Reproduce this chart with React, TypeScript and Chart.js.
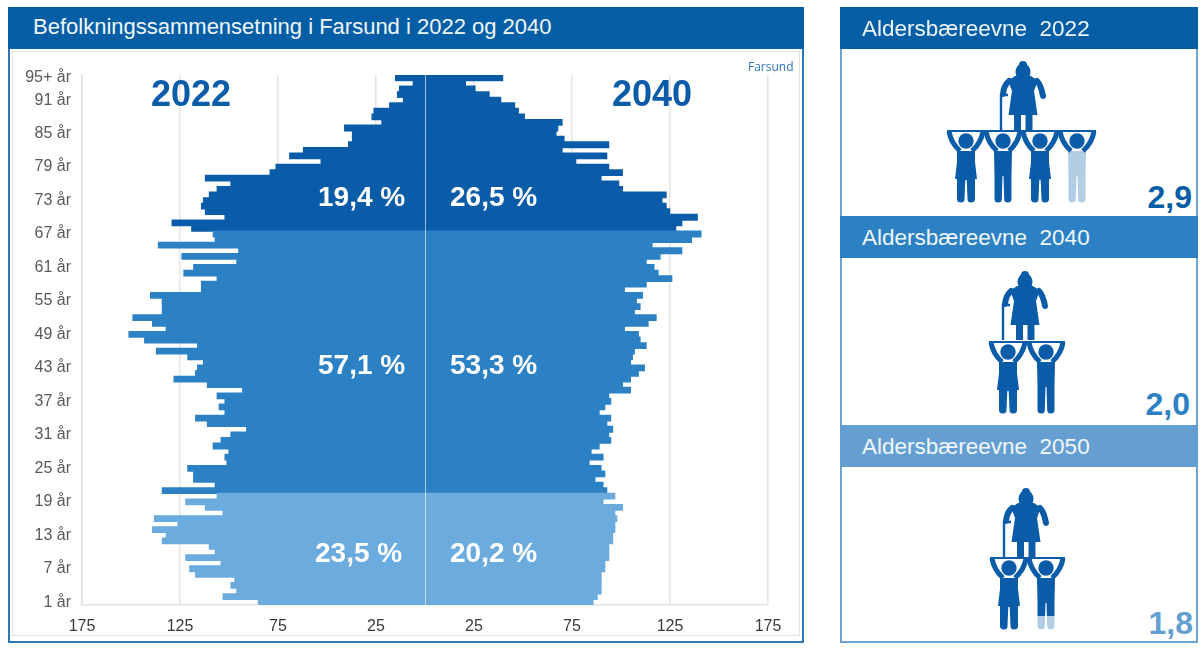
import React, { useEffect, useRef } from "react";
import { Chart, registerables } from "chart.js";

Chart.register(...registerables);

const FONT = '"Liberation Sans", Arial, sans-serif';
const DARK = "#0a5ca8";
const MID = "#2c81c4";
const LIGHT = "#6cabdd";
const HEAD3 = "#659fd2";

// Rows from the top (95+) to the bottom (1 år)
const ageLabels: string[] = [
  "95+ år", "94 år", "93 år", "92 år", "91 år", "90 år", "89 år", "88 år", "87 år", "86 år",
  "85 år", "84 år", "83 år", "82 år", "81 år", "80 år", "79 år", "78 år", "77 år", "76 år",
  "75 år", "74 år", "73 år", "72 år", "71 år", "70 år", "69 år", "68 år", "67 år", "66 år",
  "65 år", "64 år", "63 år", "62 år", "61 år", "60 år", "59 år", "58 år", "57 år", "56 år",
  "55 år", "54 år", "53 år", "52 år", "51 år", "50 år", "49 år", "48 år", "47 år", "46 år",
  "45 år", "44 år", "43 år", "42 år", "41 år", "40 år", "39 år", "38 år", "37 år", "36 år",
  "35 år", "34 år", "33 år", "32 år", "31 år", "30 år", "29 år", "28 år", "27 år", "26 år",
  "25 år", "24 år", "23 år", "22 år", "21 år", "20 år", "19 år", "18 år", "17 år", "16 år",
  "15 år", "14 år", "13 år", "12 år", "11 år", "10 år", "9 år", "8 år", "7 år", "6 år",
  "5 år", "4 år", "3 år", "2 år", "1 år",
];

const shownLabels: string[] = [
  "95+ år", "91 år", "85 år", "79 år", "73 år", "67 år", "61 år", "55 år", "49 år",
  "43 år", "37 år", "31 år", "25 år", "19 år", "13 år", "7 år", "1 år",
];

const pop2022: number[] = [
  15, 6, 13, 14, 11, 18, 26, 27, 22, 41,
  37, 37, 39, 62, 69, 53, 76, 79, 112, 99,
  106, 110, 113, 114, 112, 102, 129, 119, 108, 107,
  136, 95, 124, 96, 118, 123, 106, 114, 114, 140,
  134, 134, 134, 149, 139, 132, 151, 143, 116, 137,
  121, 113, 116, 117, 128, 111, 93, 106, 102, 105,
  102, 117, 111, 91, 99, 104, 108, 100, 102, 101,
  121, 118, 118, 107, 134, 106, 122, 112, 103, 138,
  126, 139, 132, 134, 110, 107, 122, 104, 120, 117,
  97, 99, 96, 103, 85,
];

const pop2040: number[] = [
  39.6, 20.6, 25.5, 32.7, 38.6, 45.7, 47.6, 50.7, 69.9, 67.7,
  66.8, 70.9, 93.7, 69.9, 92.7, 76.9, 93.7, 100.7, 89.8, 98.8,
  100.7, 123, 120.9, 123, 124.8, 138.9, 131, 127.9, 140.8, 135.9,
  115.8, 131, 119.9, 112.8, 116.8, 118.9, 125.9, 112.8, 101.7, 110.9,
  107.8, 109.7, 106.8, 117.9, 113.8, 101.7, 108.8, 109.7, 112.8, 106.8,
  105.8, 104.8, 111.9, 108.8, 104.8, 100.7, 104.8, 93.7, 94.7, 91.7,
  88.8, 94.7, 92.7, 95.7, 93.7, 94.7, 88.8, 84.7, 90.8, 83.7,
  89.8, 91.7, 86.7, 90.8, 92.7, 96.8, 90.8, 100.7, 96.8, 97.8,
  96.8, 96.8, 95.7, 95.7, 93.7, 93.7, 93.7, 91.7, 91.7, 89.8,
  89.8, 89.8, 89.8, 87.8, 85.7,
];

// How many rows from the top belong to each colour band
const oldRows = 28;
const workingRows = 47;

const xTicks: number[] = [-175, -125, -75, -25, 25, 75, 125, 175];

const rowColor = (i: number) => (i < oldRows ? DARK : i < oldRows + workingRows ? MID : LIGHT);

const centerLine = {
  id: "centerLine",
  afterDatasetsDraw(chart: any) {
    const { ctx, chartArea, scales } = chart;
    const x = Math.round(scales.x.getPixelForValue(0)) + 0.5;
    ctx.save();
    ctx.strokeStyle = "rgba(255,255,255,0.6)";
    ctx.lineWidth = 1;
    ctx.beginPath();
    ctx.moveTo(x, chartArea.top);
    ctx.lineTo(x, chartArea.bottom);
    ctx.stroke();
    ctx.restore();
  },
};

function Pyramid() {
  const ref = useRef<HTMLCanvasElement>(null);
  useEffect(() => {
    const chart = new Chart(ref.current as HTMLCanvasElement, {
      type: "bar",
      data: {
        labels: ageLabels,
        datasets: [
          {
            label: "2022",
            data: pop2022.map((v) => -v),
            backgroundColor: ageLabels.map((_, i) => rowColor(i)),
            barPercentage: 1,
            categoryPercentage: 1,
            inflateAmount: 0.6,
          },
          {
            label: "2040",
            data: pop2040,
            backgroundColor: ageLabels.map((_, i) => rowColor(i)),
            barPercentage: 1,
            categoryPercentage: 1,
            inflateAmount: 0.6,
          },
        ],
      },
      options: {
        indexAxis: "y",
        responsive: false,
        animation: false,
        layout: { padding: { top: 75, right: 34, bottom: 0, left: 0 } },
        plugins: { legend: { display: false }, tooltip: { enabled: false }, title: { display: false } },
        scales: {
          x: {
            stacked: true,
            min: -175,
            max: 175,
            afterBuildTicks: (s: any) => {
              s.ticks = xTicks.map((value) => ({ value }));
            },
            afterFit: (s: any) => {
              s.height = 40;
            },
            grid: { color: "#e4e4e4", lineWidth: 1.5, drawTicks: false },
            border: { color: "#e4e4e4", width: 1.5 },
            ticks: {
              maxRotation: 0,
              autoSkip: false,
              padding: 12,
              color: "#3a3a3a",
              font: { family: FONT, size: 16 },
              callback: (v: any) => String(Math.abs(Number(v))),
            },
          },
          y: {
            stacked: true,
            afterFit: (s: any) => {
              s.width = 82;
            },
            grid: { display: false, drawTicks: false },
            border: { color: "#e4e4e4", width: 1.5 },
            ticks: {
              autoSkip: false,
              padding: 11,
              color: "#595959",
              font: { family: FONT, size: 16 },
              callback: (_: any, i: number) => (shownLabels.includes(ageLabels[i]) ? ageLabels[i] : ""),
            },
          },
        },
      },
      plugins: [centerLine],
    } as any);
    return () => chart.destroy();
  }, []);
  return <canvas ref={ref} width={802} height={645} style={{ position: "absolute", left: 0, top: 0, display: "block" }} />;
}

function Text(p: { x: number; y: number; size: number; color: string; bold?: boolean; children: React.ReactNode; family?: string; right?: boolean }) {
  return (
    <div
      style={{
        position: "absolute",
        ...(p.right ? { right: 1202 - p.x } : { left: p.x }),
        top: p.y,
        transform: "translateY(-50%)",
        fontFamily: p.family || FONT,
        fontSize: p.size,
        fontWeight: p.bold ? 700 : 400,
        color: p.color,
        whiteSpace: "pre",
        lineHeight: 1,
      }}
    >
      {p.children}
    </div>
  );
}

function Box(p: { x: number; y: number; w: number; h: number; bg?: string; border?: string; bw?: number }) {
  return (
    <div
      style={{
        position: "absolute",
        left: p.x,
        top: p.y,
        width: p.w,
        height: p.h,
        boxSizing: "border-box",
        background: p.bg || "transparent",
        border: p.border ? `${p.bw || 1}px solid ${p.border}` : undefined,
      }}
    />
  );
}

const ICON = "#0a5ca8";
const ICON_PALE = "#b3cde4";

function Elder({ cx, top }: { cx: number; top: number }) {
  return (
    <g transform={`translate(${cx},${top})`} fill={ICON} stroke="none">
      <circle cx={0} cy={4} r={4} />
      <ellipse cx={0} cy={11} rx={7.5} ry={9} />
      <path d="M-8,15 L8,15 Q12,18 15,19 L11,30 L14.5,54 L-14.5,54 L-11,30 L-15,19 Q-12,18 -8,15 Z" />
      <path d="M14,20 Q18,24 20,35" stroke={ICON} strokeWidth={6} strokeLinecap="round" fill="none" />
      <path d="M-14,20 Q-19,24 -20,33" stroke={ICON} strokeWidth={6} strokeLinecap="round" fill="none" />
      <path d="M-15,34 L-22,34 L-22,69" stroke={ICON} strokeWidth={2.4} fill="none" />
      <rect x={-9} y={53} width={7} height={16} />
      <rect x={2.5} y={53} width={7} height={16} />
    </g>
  );
}

const BODY_F = "M-9,21 L9,21 L9,32 L11,49 L9,49 L9,69 Q9,72.5 5,72.5 Q1.5,72.5 1.5,69 L0.7,50 L-0.7,50 L-1.5,69 Q-1.5,72.5 -5,72.5 Q-9,72.5 -9,69 L-9,49 L-11,49 L-9,32 Z";
const BODY_M = "M-9,21 L9,21 L8.5,46 L8.5,69 Q8.5,72.5 4.7,72.5 Q1.2,72.5 1.2,69 L0.5,46 L-0.5,46 L-1.2,69 Q-1.2,72.5 -4.7,72.5 Q-8.5,72.5 -8.5,69 L-8.5,46 Z";

function Carrier(p: { cx: number; bar: number; female?: boolean; paleFrom?: number; id: string }) {
  const body = p.female ? BODY_F : BODY_M;
  const from = p.paleFrom === undefined ? 100 : p.paleFrom;
  return (
    <g transform={`translate(${p.cx},${p.bar})`}>
      <defs>
        <clipPath id={`${p.id}a`}>
          <rect x={-20} y={0} width={40} height={from} />
        </clipPath>
        <clipPath id={`${p.id}b`}>
          <rect x={-20} y={from} width={40} height={Math.max(0, 80 - from)} />
        </clipPath>
      </defs>
      <path d={body} fill={ICON} clipPath={`url(#${p.id}a)`} />
      <path d={body} fill={ICON_PALE} clipPath={`url(#${p.id}b)`} />
      <rect x={-19} y={0} width={38} height={2} fill={ICON} />
      <circle cx={0} cy={11} r={7.7} fill={ICON} />
      <path d="M-17,1.5 Q-15,13 -6,21" stroke={ICON} strokeWidth={5} fill="none" />
      <path d="M17,1.5 Q15,13 6,21" stroke={ICON} strokeWidth={5} fill="none" />
    </g>
  );
}

export default function App() {
  return (
    <div style={{ position: "fixed", left: 0, top: 0, width: 1202, height: 648, background: "#fff", overflow: "hidden" }}>
      <Box x={8} y={7} w={796} h={636} border="#2f78b5" bw={2} />
      <Box x={12} y={51} w={788} h={585} border="#e2e2e2" bw={1} />
      <Pyramid />
      <Box x={8} y={7} w={796} h={42} bg="#045ea5" />
      <Text x={33} y={27} size={22} color="#f0f7fc">Befolkningssammensetning i Farsund i 2022 og 2040</Text>
      <Text x={151} y={94} size={36} color={DARK} bold>2022</Text>
      <Text x={612} y={94} size={36} color={DARK} bold>2040</Text>
      <Text x={748} y={67} size={12} color="#2f75b5" family='"Open Sans", sans-serif'>Farsund</Text>
      <Text x={318} y={197} size={28} color="#fff" bold>19,4 %</Text>
      <Text x={450} y={197} size={28} color="#fff" bold>26,5 %</Text>
      <Text x={318} y={365} size={28} color="#fff" bold>57,1 %</Text>
      <Text x={450} y={365} size={28} color="#fff" bold>53,3 %</Text>
      <Text x={315} y={553} size={28} color="#fff" bold>23,5 %</Text>
      <Text x={450} y={553} size={28} color="#fff" bold>20,2 %</Text>

      <Box x={840} y={7} w={358} h={636} border="#6ea4d2" bw={2} />
      <Box x={840} y={7} w={358} h={42} bg="#045ea5" />
      <Box x={840} y={216} w={358} h={42} bg={MID} />
      <Box x={840} y={425} w={358} h={42} bg={HEAD3} />
      <Text x={862} y={29} size={22.5} color="#f0f7fc">Aldersbæreevne  2022</Text>
      <Text x={862} y={238} size={22.5} color="#f0f7fc">Aldersbæreevne  2040</Text>
      <Text x={862} y={447} size={22.5} color="#f0f7fc">Aldersbæreevne  2050</Text>
      <Text x={1192} y={197} size={32} color="#045ea5" bold right>2,9</Text>
      <Text x={1190} y={404} size={32} color={MID} bold right>2,0</Text>
      <Text x={1193} y={623} size={32} color={HEAD3} bold right>1,8</Text>

      <svg width={1202} height={648} style={{ position: "absolute", left: 0, top: 0, pointerEvents: "none" }}>
        <Elder cx={1023} top={61} />
        <Carrier id="a1" cx={966} bar={130} female />
        <Carrier id="a2" cx={1003} bar={130} />
        <Carrier id="a3" cx={1040} bar={130} female />
        <Carrier id="a4" cx={1077} bar={130} paleFrom={21} />
        <Elder cx={1025} top={271} />
        <Carrier id="b1" cx={1008} bar={341} female />
        <Carrier id="b2" cx={1046} bar={341} />
        <Elder cx={1026} top={488} />
        <Carrier id="c1" cx={1009} bar={557} female />
        <Carrier id="c2" cx={1046} bar={557} paleFrom={59} />
      </svg>
    </div>
  );
}
